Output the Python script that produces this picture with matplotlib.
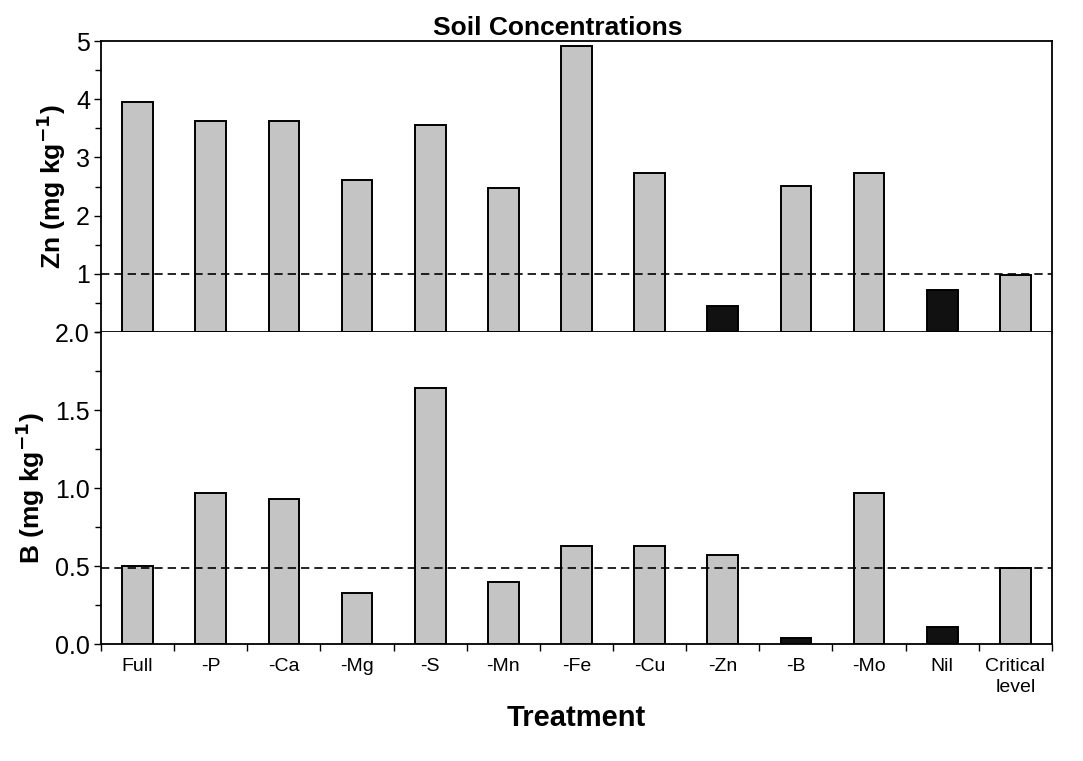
import numpy as np
import matplotlib
matplotlib.use("Agg")
import matplotlib.pyplot as plt
from matplotlib.ticker import MultipleLocator

plt.rcParams['font.family'] = ['Liberation Sans', 'DejaVu Sans']

treatments = ['Full', '-P', '-Ca', '-Mg', '-S', '-Mn', '-Fe', '-Cu', '-Zn', '-B', '-Mo', 'Nil', 'Critical\nlevel']
zn_values = [3.95, 3.63, 3.63, 2.62, 3.56, 2.48, 4.91, 2.74, 0.45, 2.51, 2.74, 0.72, 0.98]
b_values = [0.50, 0.97, 0.93, 0.33, 1.64, 0.40, 0.63, 0.63, 0.57, 0.04, 0.97, 0.11, 0.49]
# deficient treatments drawn in black
zn_deficient = ['-Zn', 'Nil']
b_deficient = ['-B', 'Nil']
zn_critical = 1.0
b_critical = 0.49

GRAY = '#c4c4c4'
DARK = '#111111'

fig = plt.figure(figsize=(10.83, 7.61), dpi=100)
ax1 = fig.add_axes([0.0933, 0.5637, 0.878, 0.3824])
ax2 = fig.add_axes([0.0933, 0.1537, 0.878, 0.4100])

x = np.arange(len(treatments))


def draw_panel(ax, values, deficient, critical):
    colors = [DARK if t in deficient else GRAY for t in treatments]
    ax.bar(x, values, width=0.42, color=colors, edgecolor='black', linewidth=1.4, zorder=2)
    ax.axhline(critical, color='black', linestyle=(0, (5, 3)), linewidth=1.2, zorder=3)
    ax.set_xlim(-0.5, len(treatments) - 0.5)
    for s in ax.spines.values():
        s.set_linewidth(1.3)
    ax.tick_params(axis='y', direction='out', length=5, width=1, labelsize=18, pad=3)
    ax.tick_params(axis='y', which='minor', direction='out', length=4, width=1)


draw_panel(ax1, zn_values, zn_deficient, zn_critical)
ax1.set_ylim(0, 5)
ax1.set_yticks([1, 2, 3, 4, 5])
ax1.yaxis.set_minor_locator(MultipleLocator(0.5))
ax1.set_xticks([])
ax1.set_ylabel('Zn (mg kg$^{\\mathbf{-1}}$)', fontsize=19, fontweight='bold', labelpad=6)
ax1.set_title('Soil Concentrations', fontsize=19, fontweight='bold', pad=4, x=0.48)

draw_panel(ax2, b_values, b_deficient, b_critical)
ax2.set_ylim(0, 2.0)
ax2.set_yticks([0.0, 0.5, 1.0, 1.5, 2.0])
ax2.set_yticklabels(['0.0', '0.5', '1.0', '1.5', '2.0'])
ax2.yaxis.set_minor_locator(MultipleLocator(0.25))
ax2.spines['top'].set_visible(False)
ax2.set_xticks(x)
ax2.set_xticklabels(treatments, fontsize=14, va='top', linespacing=1.35)
ax2.tick_params(axis='x', which='major', length=0, pad=10)
ax2.set_xticks(np.arange(len(treatments) + 1) - 0.5, minor=True)
ax2.tick_params(axis='x', which='minor', direction='out', length=5, width=1)
ax2.set_ylabel('B (mg kg$^{\\mathbf{-1}}$)', fontsize=19, fontweight='bold', labelpad=6)

fig.text(0.532, 0.057, 'Treatment', fontsize=21, fontweight='bold', ha='center', va='center')

fig.savefig('out.png', dpi=100)
